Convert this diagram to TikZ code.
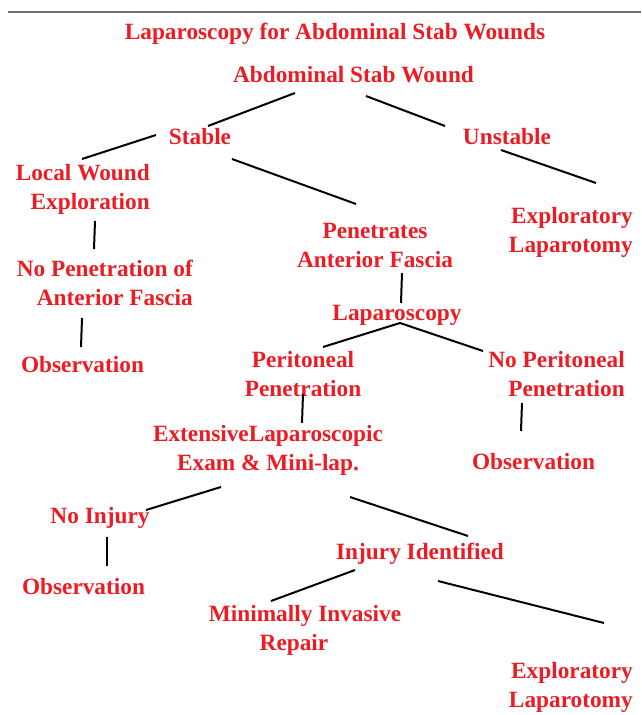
\documentclass[tikz,border=0pt]{standalone}
\usepackage{fontspec}
\setmainfont{Liberation Serif}
\definecolor{labred}{RGB}{236,28,36}
\definecolor{rulegray}{RGB}{110,110,110}
\begin{document}
\begin{tikzpicture}[x=1pt,y=-1pt,
  lbl/.style={text=labred, font=\fontsize{23.3}{28.5}\selectfont\bfseries, inner sep=0pt, anchor=base},
  lblr/.style={lbl, align=right, anchor=base east},
  lblc/.style={lbl, align=center},
  conn/.style={draw=black, line width=2pt}]
\fill[white] (0,0) rectangle (641,715);
\useasboundingbox (0,0) rectangle (641,715);
\draw[rulegray, line width=2.6pt] (8,12) -- (641,12);

\node[lbl] (title) at (335,39) {Laparoscopy for Abdominal Stab Wounds};
\node[lbl] (asw) at (353.5,82) {Abdominal Stab Wound};
\node[lbl] (stable) at (200,144) {Stable};
\node[lbl] (unstable) at (507,144) {Unstable};
\node[lblr] (lwe) at (150,209) {Local Wound\\Exploration};
\node[lblc] (pen) at (375,267) {Penetrates\\Anterior Fascia};
\node[lblr] (expl1) at (633,252) {Exploratory\\Laparotomy};
\node[lblr] (nopen) at (193,305) {No Penetration of\\Anterior Fascia};
\node[lbl] (obs1) at (82.5,372) {Observation};
\node[lbl] (lap) at (397,320) {Laparoscopy};
\node[lblc] (perit) at (303,396) {Peritoneal\\Penetration};
\node[lblr] (noperit) at (625,396) {No Peritoneal\\Penetration};
\node[lblc] (ext) at (268,470) {ExtensiveLaparoscopic\\Exam \& Mini-lap.};
\node[lbl] (obs2) at (533.5,469) {Observation};
\node[lbl] (noinj) at (100,523) {No Injury};
\node[lbl] (injid) at (420,559) {Injury Identified};
\node[lbl] (obs3) at (83.5,594) {Observation};
\node[lblc] (mir) at (305,650) {Minimally Invasive\\Repair\hspace*{22pt}};
\node[lblr] (expl2) at (633,707) {Exploratory\\Laparotomy};

\draw[conn] ([shift={(-58.5,11)}]asw.base) -- ([shift={(8,-18)}]stable.base);
\draw[conn] ([shift={(12.5,14)}]asw.base) -- ([shift={(-62,-18)}]unstable.base);
\draw[conn] ([shift={(-44,-9)}]stable.base) -- ([shift={(-68,-50)}]lwe.base east);
\draw[conn] ([shift={(32,15)}]stable.base) -- ([shift={(-19,-63)}]pen.base);
\draw[conn] ([shift={(-6,6)}]unstable.base) -- ([shift={(-37,-69)}]expl1.base east);
\draw[conn] ([shift={(-55,12)}]lwe.base east) -- ([shift={(-99,-56)}]nopen.base east);
\draw[conn] ([shift={(-111,13)}]nopen.base east) -- ([shift={(-1.5,-25)}]obs1.base);
\draw[conn] ([shift={(27,6)}]pen.base) -- ([shift={(4,-17)}]lap.base);
\draw[conn] ([shift={(3,3)}]lap.base) -- ([shift={(20,-49)}]perit.base);
\draw[conn] ([shift={(3,3)}]lap.base) -- ([shift={(-142,-45)}]noperit.base east);
\draw[conn] ([shift={(0,-2)}]perit.base) -- ([shift={(34,-47)}]ext.base);
\draw[conn] ([shift={(-103,7)}]noperit.base east) -- ([shift={(-12.5,-38)}]obs2.base);
\draw[conn] ([shift={(-47,17)}]ext.base) -- ([shift={(46,-13)}]noinj.base);
\draw[conn] ([shift={(82,27)}]ext.base) -- ([shift={(48,-23)}]injid.base);
\draw[conn] ([shift={(7,14)}]noinj.base) -- ([shift={(23.5,-28)}]obs3.base);
\draw[conn] ([shift={(-65,11)}]injid.base) -- ([shift={(-34,-49)}]mir.base);
\draw[conn] ([shift={(18,22)}]injid.base) -- ([shift={(-29,-84)}]expl2.base east);
\end{tikzpicture}
\end{document}
